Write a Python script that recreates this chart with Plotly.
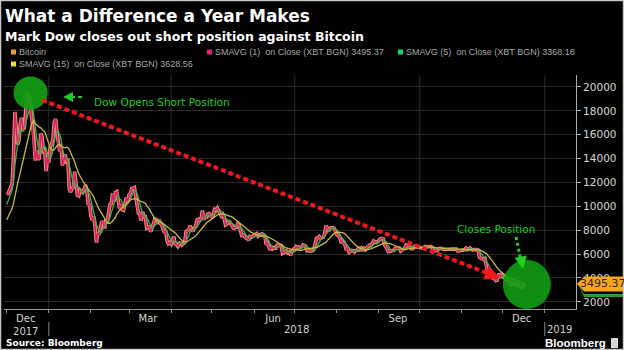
import pandas as pd
import plotly.graph_objects as go

# ---------------- data (daily close, XBT) ----------------
nov17_tail = [7850, 7700, 7790, 8040, 8200, 8070, 8250, 8100, 8250, 8750, 9300, 9730, 9950, 9880, 10230]
dec17 = [10975, 11075, 11320, 11660, 11920, 14290, 17900, 16570, 15180, 15455, 16940, 17415, 16410, 16565, 17710,
         19500, 19140, 19115, 17780, 16625, 15800, 13830, 14700, 13925, 14025, 16100, 15840, 14600, 14660, 12950, 14160]
jan18 = [13660, 14980, 15200, 15600, 17050, 17320, 16180, 15020, 14600, 14970, 13400, 13980, 14360, 13770, 13820,
         11490, 11190, 11475, 11610, 12900, 11600, 10930, 10870, 11360, 11260, 11170, 11440, 11790, 11300, 10110, 10220]
feb18 = [9170, 8830, 9175, 8280, 6955, 7750, 7620, 8265, 8740, 8620, 8130, 8930, 8550, 9495, 10165, 10230, 11100,
         10380, 11160, 11225, 10550, 9830, 10150, 9700, 9665, 10390, 10725, 10400]
mar18 = [10950, 11085, 11490, 11510, 11575, 10780, 9965, 9395, 9335, 8795, 9550, 9140, 9150, 8200, 8260, 8270, 7870,
         8225, 8620, 8920, 8900, 8720, 8900, 8550, 8470, 8135, 7795, 7940, 7090, 6890, 6975]
apr18 = [6845, 7085, 7460, 6855, 6810, 6640, 6930, 7020, 6770, 6830, 6970, 7890, 7930, 8050, 8360, 8060, 7900, 8165,
         8295, 8850, 8920, 8805, 8935, 9650, 8865, 9280, 8990, 9350, 9390, 9240]
may18 = [9120, 9235, 9740, 9700, 9860, 9620, 9370, 9190, 9320, 9040, 8440, 8505, 8725, 8715, 8510, 8370, 8095, 8250,
         8250, 8530, 8420, 8040, 7560, 7590, 7460, 7355, 7370, 7135, 7470, 7405, 7495]
jun18 = [7540, 7645, 7720, 7500, 7630, 7655, 7690, 7625, 7530, 6785, 6905, 6580, 6350, 6675, 6460, 6530, 6500, 6750,
         6730, 6770, 6720, 6050, 6165, 6175, 6250, 6090, 6160, 5905, 6220, 6405]
jul18 = [6385, 6615, 6530, 6600, 6530, 6600, 6760, 6705, 6665, 6310, 6385, 6250, 6240, 6275, 6360, 6740, 7320, 7380,
         7470, 7335, 7405, 7400, 7720, 8400, 8170, 7935, 8180, 8230, 8220, 8180, 7780]
aug18 = [7625, 7567, 7434, 7032, 7068, 6951, 6753, 6306, 6529, 6144, 6232, 6311, 6275, 6189, 6295, 6322, 6586, 6387,
         6490, 6268, 6474, 6361, 6527, 6689, 6733, 6708, 6903, 7096, 7048, 6978, 7037]
sep18 = [7193, 7272, 7261, 7362, 6792, 6530, 6419, 6200, 6252, 6294, 6285, 6331, 6486, 6487, 6519, 6499, 6258, 6332,
         6334, 6486, 6750, 6721, 6711, 6596, 6433, 6452, 6645, 6640, 6601, 6625]
oct18 = [6590, 6557, 6502, 6576, 6636, 6596, 6602, 6653, 6643, 6590, 6261, 6290, 6302, 6298, 6452, 6484, 6485, 6412,
         6400, 6420, 6420, 6417, 6404, 6413, 6404, 6401, 6421, 6411, 6254, 6270, 6318]
nov18 = [6377, 6388, 6361, 6489, 6376, 6419, 6519, 6412, 6340, 6372, 6411, 6372, 6338, 5738, 5648, 5575, 5554, 5624,
         4871, 4452, 4602, 4365, 4347, 3880, 4009, 3779, 3820, 4258, 4278, 4017]
dec18 = [4214, 4139, 3894, 3957, 3753, 3521, 3419, 3476, 3615, 3502, 3425, 3508, 3312, 3232, 3237, 3253, 3495.37]

month_starts = ["2017-11-16", "2017-12-01", "2018-01-01", "2018-02-01", "2018-03-01", "2018-04-01", "2018-05-01",
                "2018-06-01", "2018-07-01", "2018-08-01", "2018-09-01", "2018-10-01", "2018-11-01", "2018-12-01"]
month_values = [nov17_tail, dec17, jan18, feb18, mar18, apr18, may18, jun18, jul18, aug18, sep18, oct18, nov18, dec18]

legend_labels = ["Bitcoin", "SMAVG (1)\u00a0 on Close (XBT BGN) 3495.37",
                 "SMAVG (5)\u00a0 on Close (XBT BGN) 3368.18", "SMAVG (15)\u00a0 on Close (XBT BGN) 3628.56"]
month_tick_dates = ["2017-12-15", "2018-03-15", "2018-06-15", "2018-09-15", "2018-12-15"]
month_tick_text = ["Dec<br>2017", "Mar", "Jun", "Sep", "Dec"]
year_label_dates = ["2018-07-02", "2019-01-12"]
year_label_text = ["2018", "2019"]
year_sep_dates = ["2018-01-01", "2019-01-01"]
grid_dates = ["2018-01-01", "2018-04-01", "2018-07-01", "2018-10-01", "2019-01-01"]
y_ticks = [2000, 4000, 6000, 8000, 10000, 12000, 14000, 16000, 18000, 20000]

# ---------------- build series ----------------
parts = []
for start, vals in zip(month_starts, month_values):
    parts.append(pd.Series(vals, index=pd.date_range(start, periods=len(vals), freq="D"), dtype=float))
close = pd.concat(parts)
sma5 = close.rolling(5).mean()
sma15 = close.rolling(15).mean()
show = close.index >= "2017-12-01"
x = close.index[show]

C_BTC = "#f0a030"
C_S1 = "#e0207a"
C_S5 = "#19d36a"
C_S15 = "#e8e030"
GREEN = "#22cc22"

fig = go.Figure()
fig.add_trace(go.Scatter(x=x, y=close[show], mode="lines", line=dict(color="#e89080", width=3.6), hoverinfo="skip"))
fig.add_trace(go.Scatter(x=x, y=close[show], mode="lines", line=dict(color="#d82060", width=1.6), hoverinfo="skip"))
fig.add_trace(go.Scatter(x=x, y=sma5[show], mode="lines", line=dict(color="#42b048", width=1.3), hoverinfo="skip"))
fig.add_trace(go.Scatter(x=x, y=sma15[show], mode="lines", line=dict(color="#c8bc3c", width=1.3), hoverinfo="skip"))

# ---------------- layout geometry ----------------
L, R, T, B = 4, 576, 75, 309
W, H = R - L, B - T


def px(v):
    return (v - L) / W


def py(v):
    return (B - v) / H


def label(xp, yp, s, size, color, family="DejaVu Sans", xanchor="left"):
    return dict(xref="paper", yref="paper", x=px(xp), y=py(yp), text=s, showarrow=False,
                xanchor=xanchor, yanchor="middle", font=dict(size=size, color=color, family=family))


annotations = []
shapes = []

# title & subtitle
annotations.append(label(3, 16, "<b>What a Difference a Year Makes</b>", 17, "#ffffff"))
annotations.append(label(3, 37, "<b>Mark Dow closes out short position against Bitcoin</b>", 12.5, "#ffffff"))

# legend
leg_pos = [(11, 52), (207, 52), (398, 52), (11, 64)]
leg_col = [C_BTC, C_S1, C_S5, C_S15]
for (lx, ly), lc, lt in zip(leg_pos, leg_col, legend_labels):
    shapes.append(dict(type="rect", xref="paper", yref="paper", x0=px(lx), x1=px(lx + 5), y0=py(ly + 2.5),
                       y1=py(ly - 2.5), fillcolor=lc, line_width=0))
    annotations.append(label(lx + 6, ly, lt, 9, "#a8a8a8", family="Liberation Sans"))

# vertical grid lines
for gd in grid_dates:
    shapes.append(dict(type="line", xref="x", yref="paper", x0=gd, x1=gd, y0=0, y1=1,
                       line=dict(color="#2c2c2c", width=1), layer="below"))

# year separators and year labels
for sd in year_sep_dates:
    shapes.append(dict(type="line", xref="x", yref="paper", x0=sd, x1=sd, y0=py(322), y1=py(336),
                       line=dict(color="#888888", width=1)))
for yd, yt in zip(year_label_dates, year_label_text):
    annotations.append(dict(xref="x", yref="paper", x=yd, y=py(329), text=yt, showarrow=False,
                            xanchor="center", yanchor="middle",
                            font=dict(size=10, color="#d0d0d0", family="DejaVu Sans")))

# circles
peak_date = close[show].idxmax()
last_date = close.index[-1]
last_val = close.iloc[-1]
shapes.append(dict(type="circle", xref="x", yref="y", xsizemode="pixel", ysizemode="pixel",
                   xanchor=peak_date, yanchor=19500, x0=-13.5, x1=20.5, y0=-16.5, y1=16.5,
                   fillcolor="#12a012", opacity=0.92, line_width=0))
shapes.append(dict(type="circle", xref="x", yref="y", xsizemode="pixel", ysizemode="pixel",
                   xanchor=last_date, yanchor=last_val, x0=-21.5, x1=26.5, y0=-25, y1=24,
                   fillcolor="#12a012", opacity=0.88, line_width=0))

# red dotted arrow
shapes.append(dict(type="line", xref="x", yref="y", x0="2017-12-27", y0=18900, x1="2018-11-27", y1=4080,
                   line=dict(color="#f01818", width=4, dash="5px,3px")))
annotations.append(dict(xref="x", yref="y", x="2018-11-29", y=3950, ax=-14, ay=-6, text="", showarrow=True,
                        arrowhead=2, arrowsize=1, arrowwidth=3, arrowcolor="#f01818", standoff=0))

# green callouts
annotations.append(label(92, 102, "Dow Opens Short Position", 10.5, GREEN))
shapes.append(dict(type="line", xref="paper", yref="paper", x0=px(71), x1=px(82), y0=py(97), y1=py(97),
                   line=dict(color=GREEN, width=2, dash="4px,3px")))
annotations.append(dict(xref="paper", yref="paper", x=px(63), y=py(97), ax=8, ay=0, text="", showarrow=True,
                        arrowhead=2, arrowsize=1, arrowwidth=2, arrowcolor=GREEN, standoff=0))
annotations.append(label(455, 229, "Closes Position", 10.5, GREEN))
shapes.append(dict(type="line", xref="paper", yref="paper", x0=px(516), x1=px(521), y0=py(237), y1=py(261),
                   line=dict(color=GREEN, width=3, dash="3px,3px")))
annotations.append(dict(xref="paper", yref="paper", x=px(523), y=py(269), ax=-1.5, ay=-8, text="",
                        showarrow=True, arrowhead=2, arrowsize=1, arrowwidth=2.5, arrowcolor=GREEN, standoff=0))

# last value tag
shapes.append(dict(type="path", xref="paper", yref="y", xsizemode="pixel", ysizemode="pixel",
                   xanchor=1, yanchor=last_val, path="M 2,0 L 8,-10 L 47,-10 L 47,-13 L 8,-13 Z",
                   fillcolor="#22a030", line_width=0))
shapes.append(dict(type="path", xref="paper", yref="y", xsizemode="pixel", ysizemode="pixel",
                   xanchor=1, yanchor=last_val, path="M 1,0 L 8,7.5 L 47,7.5 L 47,-7.5 L 8,-7.5 Z",
                   fillcolor="#f5a81c", line_width=0))
annotations.append(dict(xref="paper", yref="y", x=px(603), y=last_val, text=f"{last_val:.2f}", showarrow=False,
                        xanchor="center", yanchor="middle",
                        font=dict(size=11, color="#3a1a00", family="DejaVu Sans")))

# footer
annotations.append(label(4, 343, "<b>Source: Bloomberg</b>", 9, "#ffffff"))
annotations.append(label(543, 343, "<b>Bloomberg</b>", 11.5, "#ffffff", family="Liberation Sans"))
shapes.append(dict(type="rect", xref="paper", yref="paper", x0=px(611), x1=px(618), y0=py(348), y1=py(338),
                   fillcolor="#d8d8d8", line_width=0))

# outer frame
shapes.append(dict(type="rect", xref="paper", yref="paper", x0=px(0.5), x1=px(623.5), y0=py(349.5), y1=py(0.5),
                   line=dict(color="#c8c8c8", width=1.5), fillcolor="rgba(0,0,0,0)"))

fig.update_layout(
    width=624, height=350, autosize=False,
    margin=dict(l=L, r=624 - R, t=T, b=350 - B, pad=0),
    paper_bgcolor="#000000", plot_bgcolor="#000000",
    showlegend=False,
    annotations=annotations, shapes=shapes,
    xaxis=dict(type="date", range=["2017-11-29", "2019-01-24"], tickmode="array",
               tickvals=month_tick_dates, ticktext=month_tick_text, ticks="", showgrid=False,
               showline=True, linecolor="#9a9a9a", linewidth=1, zeroline=False,
               tickfont=dict(size=10, color="#d0d0d0", family="DejaVu Sans"),
               minor=dict(tickmode="array",
                          tickvals=list(pd.date_range("2017-12-01", "2019-01-01", freq="MS")),
                          ticks="outside", ticklen=3, tickcolor="#8a8a8a", showgrid=False)),
    yaxis=dict(side="right", range=[1400, 21000], tickmode="array", tickvals=y_ticks,
               ticktext=[str(v) for v in y_ticks], showgrid=True, gridcolor="#2c2c2c", gridwidth=1,
               ticks="outside", ticklen=4, tickcolor="#b0b0b0", showline=True, linecolor="#b0b0b0",
               zeroline=False, tickfont=dict(size=10.5, color="#d8d8d8", family="DejaVu Sans")),
)

fig.write_html("out.html")
